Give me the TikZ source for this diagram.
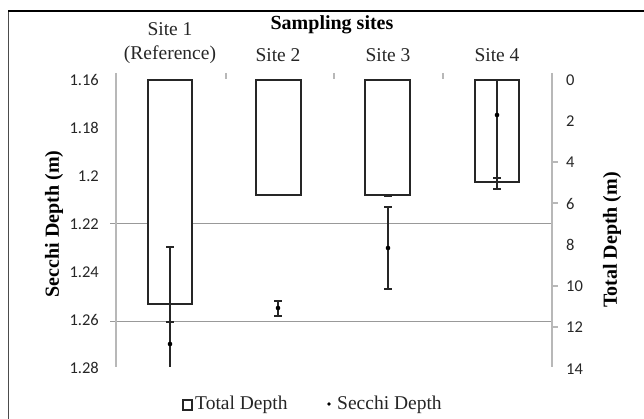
\documentclass[tikz,border=0pt]{standalone}
\usepackage{fontspec}
\setmainfont{Liberation Serif}
\newfontfamily\tickfont{Carlito}
\begin{document}
\begin{tikzpicture}[x=1pt,y=-1pt,
  axisline/.style={draw=black!28,line width=1.2pt},
  gridl/.style={draw=black!40,line width=1pt},
  barbox/.style={draw=black!85,fill=white,line width=1.5pt},
  errl/.style={draw=black!85,line width=1.5pt},
  ticklab/.style={font=\tickfont\fontsize{16.5}{18}\selectfont,text=black!85,inner sep=0pt},
  sitelab/.style={font=\fontsize{19.5}{24}\selectfont,text=black!85,inner sep=0pt,align=center},
  axtitle/.style={font=\bfseries\fontsize{20}{24}\selectfont,inner sep=0pt},
  dotm/.style={fill=black,draw=none}]
\useasboundingbox (0,0) rectangle (644,419);
% frame
\draw[black!70,line width=1pt] (8,419) -- (8,11);
\draw[black,line width=1.8pt] (8,11) -- (644,11);
% gridlines with outward ticks
\draw[gridl] (110,224) -- (552,224);
\draw[gridl] (110,321) -- (552,321);
% axes
\draw[axisline] (116,73) -- (116,367);
\draw[axisline] (552,73) -- (552,367);
\foreach \yy in {162,203,286,327} \draw[axisline] (552,\yy) -- (558,\yy);
\foreach \xx in {226,334,443} \draw[axisline] (\xx,73) -- (\xx,79);
% left tick labels
\foreach \v/\yy in {1.16/80,1.18/128,1.2/176,1.22/224,1.24/272,1.26/320,1.28/368}
  \node[ticklab,anchor=east] (l\yy) at (99,\yy) {\v};
% right tick labels
\foreach \v/\yy in {0/80,2/121,4/162,6/204,8/245,10/286,12/327,14/369}
  \node[ticklab,anchor=west] (r\yy) at (566,\yy) {\v};
% bars (total depth)
\draw[barbox] (148,80) rectangle (192,304);
\draw[barbox] (256,80) rectangle (301,195);
\draw[barbox] (365,80) rectangle (410,195);
\draw[barbox] (475,80) rectangle (519,182);
% error bars
% site 1
\draw[errl] (170,247) -- (170,367);
\draw[errl] (166,247) -- (174,247);
\draw[errl] (166,322) -- (174,322);
\fill[dotm] (170,344) circle (2.3);
% site 2
\draw[errl] (278,301) -- (278,316);
\draw[errl] (274,301) -- (282,301) (274,316) -- (282,316);
\fill[dotm] (278,308) circle (2.3);
% site 3
\draw[errl] (384,196.5) -- (392,196.5);
\draw[errl] (388,207) -- (388,289);
\draw[errl] (384,207) -- (392,207) (384,289) -- (392,289);
\fill[dotm] (388,248) circle (2.3);
% site 4
\draw[errl] (497,80) -- (497,189);
\draw[errl] (493,178) -- (501,178) (493,189) -- (501,189);
\fill[dotm] (497,115) circle (2.3);
% titles
\node[axtitle] (title) at (332,25) {Sampling sites};
\node[sitelab] (s1) at (170,43) {Site 1\\(Reference)};
\node[sitelab] (s2) at (278,55) {Site 2};
\node[sitelab] (s3) at (388,55) {Site 3};
\node[sitelab] (s4) at (497,55) {Site 4};
\node[axtitle,rotate=90] (ylab) at (54,224) {Secchi Depth (m)};
\node[axtitle,rotate=90] (y2lab) at (612,240) {Total Depth (m)};
% legend
\draw[black!85,line width=1.3pt,fill=white] (183,400) rectangle (192,410);
\node[sitelab,anchor=west] (leg1) at (195,405) {Total Depth};
\fill[dotm] (329,404) circle (1.8);
\node[sitelab,anchor=west] (leg2) at (337,405) {Secchi Depth};
\end{tikzpicture}
\end{document}
